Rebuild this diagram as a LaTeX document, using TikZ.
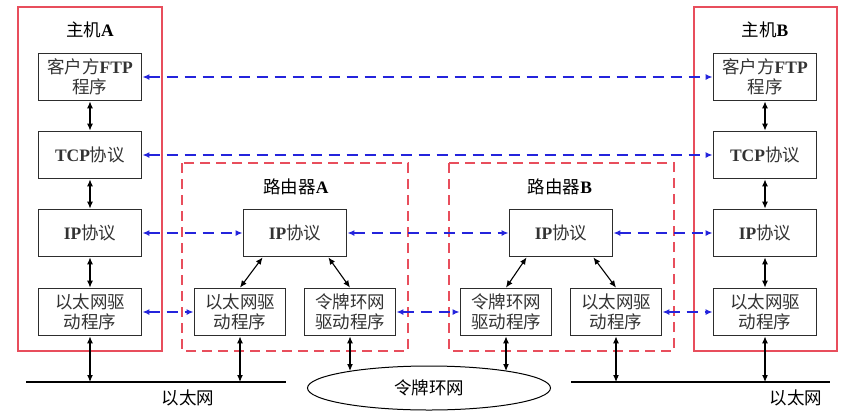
\documentclass[tikz,border=0pt]{standalone}
\usepackage{fontspec}
\setmainfont{Liberation Serif}
\newfontfamily\cjk{Noto Sans CJK SC}
\usetikzlibrary{arrows.meta,shapes.geometric}
\definecolor{hostred}{RGB}{232,78,92}
\definecolor{peerblue}{RGB}{36,36,220}
\definecolor{boxgray}{RGB}{45,45,45}
\newcommand{\zh}[1]{{\cjk #1}}

\begin{document}
\begin{tikzpicture}[x=1pt,y=-1pt,font=\fontsize{17.5}{20}\selectfont,
  layer/.style={draw=boxgray,line width=1.8pt,minimum width=103,minimum height=47,align=center,inner sep=1pt,text=black!80},
  drv/.style={layer,minimum width=91},
  hostframe/.style={draw=hostred,line width=1.8pt},
  routerframe/.style={draw=hostred,line width=1.3pt,dash pattern=on 10pt off 6pt},
  peer/.style={draw=peerblue,line width=1.4pt,dash pattern=on 11pt off 7pt,{Latex[length=7pt,width=6pt]}-{Latex[length=7pt,width=6pt]}},
  link/.style={draw=black,line width=1.1pt,{Latex[length=7pt,width=6pt]}-{Latex[length=7pt,width=6pt]}},
  bus/.style={line width=2.4pt}]
        \useasboundingbox (0,0) rectangle (852,416);
        % host A
        \draw[hostframe] (18,7) rectangle (162,351);
        \node (hostA) at (90,30) {\zh{主机}\textbf{A}};
        \node[layer] (ftpA) at (90,77) {\zh{客户方}\textbf{FTP}\\\zh{程序}};
        \node[layer] (tcpA) at (90,155) {\textbf{TCP}\zh{协议}};
        \node[layer] (ipA) at (90,233) {\textbf{IP}\zh{协议}};
        \node[layer] (ethA) at (90,312) {\zh{以太网驱}\\\zh{动程序}};
        % host B
        \draw[hostframe] (694,7) rectangle (837,351);
        \node (hostB) at (765,30) {\zh{主机}\textbf{B}};
        \node[layer] (ftpB) at (765,77) {\zh{客户方}\textbf{FTP}\\\zh{程序}};
        \node[layer] (tcpB) at (765,155) {\textbf{TCP}\zh{协议}};
        \node[layer] (ipB) at (765,233) {\textbf{IP}\zh{协议}};
        \node[layer] (ethB) at (765,312) {\zh{以太网驱}\\\zh{动程序}};
        % router A
        \draw[routerframe] (182,163) rectangle (408,351);
        \node (rtA) at (296,187) {\zh{路由器}\textbf{A}};
        \node[layer] (ipRA) at (295,233) {\textbf{IP}\zh{协议}};
        \node[drv] (ethRA) at (240,312) {\zh{以太网驱}\\\zh{动程序}};
        \node[drv] (tokRA) at (350,312) {\zh{令牌环网}\\\zh{驱动程序}};
        % router B
        \draw[routerframe] (449,163) rectangle (674,351);
        \node (rtB) at (560,187) {\zh{路由器}\textbf{B}};
        \node[layer] (ipRB) at (561,233) {\textbf{IP}\zh{协议}};
        \node[drv] (tokRB) at (506,312) {\zh{令牌环网}\\\zh{驱动程序}};
        \node[drv] (ethRB) at (616,312) {\zh{以太网驱}\\\zh{动程序}};
        % networks
        \coordinate (busL) at (26,382);
        \coordinate (busLe) at (286,382);
        \coordinate (busR) at (571,382);
        \coordinate (busRe) at (830,382);
        \draw[bus] (busL) -- (busLe);
        \draw[bus] (busR) -- (busRe);
        \node (etherL) at (188,398) {\zh{以太网}};
        \node (etherR) at (796,398) {\zh{以太网}};
        \node[draw,ellipse,line width=1pt,minimum width=243,minimum height=44] (ring) at (429,388) {\zh{令牌环网}};
        \coordinate (ringA) at (350,371);
        \coordinate (ringB) at (506,371);
        % peer links
        \draw[peer] (ftpA) -- (ftpB);
        \draw[peer] (tcpA) -- (tcpB);
        \draw[peer] (ipA) -- (ipRA);
        \draw[peer] (ipRA) -- (ipRB);
        \draw[peer] (ipRB) -- (ipB);
        \draw[peer] (ethA) -- (ethRA);
        \draw[peer] (tokRA) -- (tokRB);
        \draw[peer] (ethRB) -- (ethB);
        % stack links
        \draw[link] (ftpA) -- (tcpA);
        \draw[link] (tcpA) -- (ipA);
        \draw[link] (ipA) -- (ethA);
        \draw[link] (ftpB) -- (tcpB);
        \draw[link] (tcpB) -- (ipB);
        \draw[link] (ipB) -- (ethB);
        \draw[link] ([xshift=20]ipRA.south west) -- (ethRA.north);
        \draw[link] ([xshift=-19]ipRA.south east) -- (tokRA.north);
        \draw[link] ([xshift=18]ipRB.south west) -- (tokRB.north);
        \draw[link] ([xshift=-20]ipRB.south east) -- (ethRB.north);
        \draw[link] (ethA) -- (ethA |- busL);
        \draw[link] (ethRA) -- (ethRA |- busL);
        \draw[link] (ethRB) -- (ethRB |- busR);
        \draw[link] (ethB) -- (ethB |- busR);
        \draw[link] (tokRA) -- (ringA);
        \draw[link] (tokRB) -- (ringB);
      \end{tikzpicture}
\end{document}
